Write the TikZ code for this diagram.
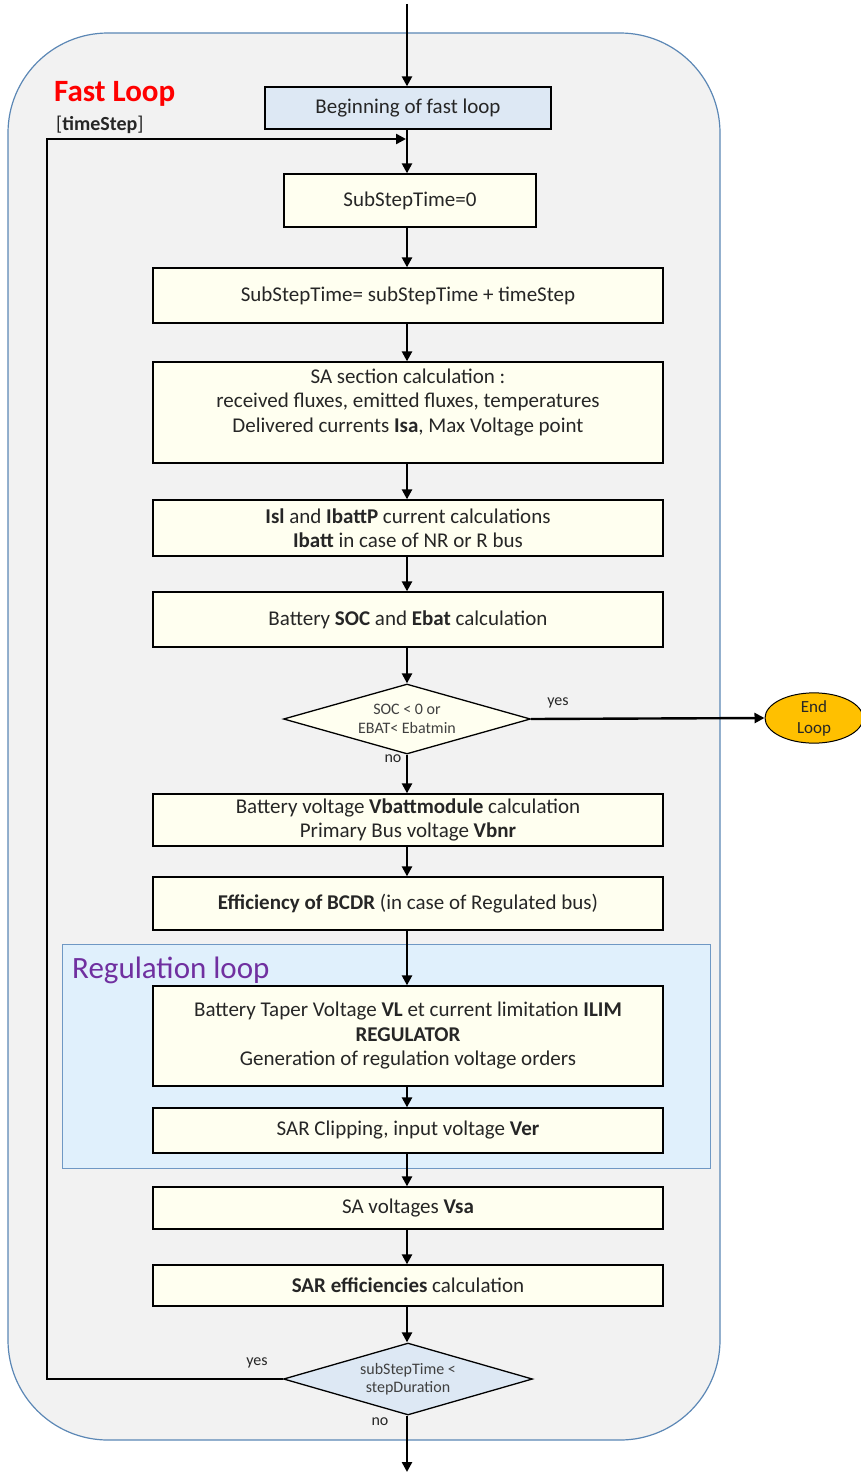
\documentclass[tikz,border=0pt]{standalone}
\usepackage{fontspec}
\setmainfont{Carlito}
\usetikzlibrary{shapes.geometric,arrows.meta}
\definecolor{loopfill}{HTML}{F2F2F2}
\definecolor{loopedge}{HTML}{5B87B5}
\definecolor{regfill}{HTML}{E0F0FC}
\definecolor{regedge}{HTML}{6F98C4}
\definecolor{boxfill}{HTML}{FFFFF0}
\definecolor{startfill}{HTML}{DDE8F4}
\definecolor{endfill}{HTML}{FFC000}
\definecolor{regtitle}{HTML}{7030A0}
\definecolor{fasttitle}{HTML}{FF0000}
\begin{document}
\begin{tikzpicture}[x=1pt,y=-1pt,
  box/.style={draw=black, line width=1.3pt, fill=boxfill, inner sep=0pt,
    align=center, font=\fontsize{21}{24.5}\selectfont, minimum width=510, text=black!85},
  test/.style={diamond, aspect=3.5, draw=black, line width=1.3pt, fill=boxfill, inner sep=0pt,
    align=center, font=\fontsize{16}{18.5}\selectfont, text=black!75},
  lbl/.style={font=\fontsize{16}{18}\selectfont, inner sep=0pt, text=black!85},
  flow/.style={line width=2.4pt, -{Triangle[length=10pt,width=10pt]}},
]
\useasboundingbox (0,0) rectangle (861,1472);

% fast loop container
\draw[loopedge, line width=1.2pt, fill=loopfill, rounded corners=100pt]
  (8,33) rectangle (720,1440);
\node[anchor=west, inner sep=0pt, text=fasttitle, font=\fontsize{31}{34}\selectfont\bfseries]
  (fast) at (54,94) {Fast Loop};
\node[anchor=west, inner sep=0pt, font=\fontsize{20}{22}\selectfont, text=black!85]
  (ts) at (56,125) {[\textbf{timeStep}]};

% regulation loop container
\draw[regedge, line width=1pt, fill=regfill] (62,944) rectangle (710,1168);
\node[anchor=west, inner sep=0pt, text=regtitle, font=\fontsize{31}{34}\selectfont]
  (regt) at (72,970) {Regulation loop};

% steps
\node[box, fill=startfill, minimum width=286, minimum height=42] (b0) at (408,108) {Beginning of fast loop};
\node[box, minimum width=252, minimum height=53] (b1) at (410,200.5) {SubStepTime=0};
\node[box, minimum height=55] (b2) at (408,295.5) {SubStepTime= subStepTime + timeStep};
\node[box, minimum height=101] (b3) at (408,412.5) {SA section calculation :\\received fluxes, emitted fluxes, temperatures\\Delivered currents \textbf{Isa}, Max Voltage point\\\mbox{}};
\node[box, minimum height=56] (b4) at (408,528) {\textbf{Isl} and \textbf{IbattP} current calculations\\\textbf{Ibatt} in case of NR or R bus};
\node[box, minimum height=55] (b5) at (408,619.5) {Battery \textbf{SOC} and \textbf{Ebat} calculation};
\node[test, minimum width=247, minimum height=70] (d1) at (407,719) {SOC {<} 0 or\\EBAT{<} Ebatmin};
\node[box, minimum height=52] (b6) at (408,820) {Battery voltage \textbf{Vbattmodule} calculation\\Primary Bus voltage \textbf{Vbnr}};
\node[box, minimum height=53] (b7) at (408,903.5) {\textbf{Efficiency of BCDR} (in case of Regulated bus)};
\node[box, minimum height=100] (b8) at (408,1036) {Battery Taper Voltage \textbf{VL} et current limitation \textbf{ILIM}\\\textbf{REGULATOR}\\Generation of regulation voltage orders};
\node[box, minimum height=45] (b9) at (408,1130.5) {SAR Clipping, input voltage \textbf{Ver}};
\node[box, minimum height=42] (b10) at (408,1208) {SA voltages \textbf{Vsa}};
\node[box, minimum height=41] (b11) at (408,1285.5) {\textbf{SAR efficiencies} calculation};
\node[test, fill=startfill, minimum width=249, minimum height=72] (d2) at (408,1379) {subStepTime {<}\\stepDuration};
\node[ellipse, draw=black, line width=1pt, fill=endfill, minimum width=98, minimum height=48,
  inner sep=0pt, align=center, font=\fontsize{17}{21}\selectfont, text=black!85] (end) at (814,718) {End\\Loop};

% branch labels
\node[lbl] (y1) at (558,703) {yes};
\node[lbl] (n1) at (393,759) {no};
\node[lbl] (y2) at (257,1363) {yes};
\node[lbl] (n2) at (380,1422) {no};

% connectors
\coordinate (in) at (407,4);
\coordinate (out) at (407,1472);
\coordinate (back) at (47,1379);
\coordinate (join) at (406,139);
\draw[flow] (in) -- (in |- b0.north);
\draw[flow] (b0.south -| in) -- (in |- b1.north);
\draw[flow] (b1.south -| in) -- (in |- b2.north);
\draw[flow] (b2.south -| in) -- (in |- b3.north);
\draw[flow] (b3.south -| in) -- (in |- b4.north);
\draw[flow] (b4.south -| in) -- (in |- b5.north);
\draw[flow] (b5.south -| in) -- (d1.north);
\draw[flow] (d1.east) -- (end.west);
\draw[flow] (d1.south) -- (in |- b6.north);
\draw[flow] (b6.south -| in) -- (in |- b7.north);
\draw[flow] (b7.south -| in) -- (in |- b8.north);
\draw[flow] (b8.south -| in) -- (in |- b9.north);
\draw[flow] (b9.south -| in) -- (in |- b10.north);
\draw[flow] (b10.south -| in) -- (in |- b11.north);
\draw[flow] (b11.south -| in) -- (in |- d2.north);
\draw[flow] (d2.south -| in) -- (out);
\draw[flow] (d2.west) -- (back) -- (back |- join) -- (join);
\end{tikzpicture}
\end{document}
